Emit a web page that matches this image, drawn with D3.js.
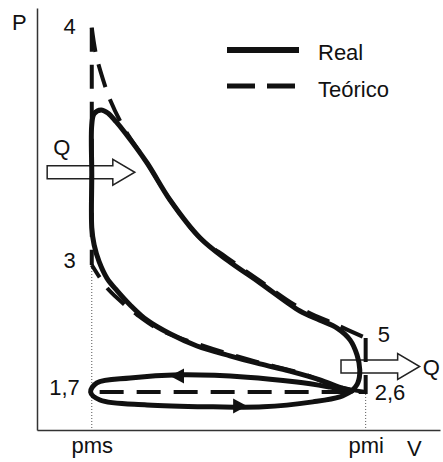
<!DOCTYPE html>
<html>
<head>
<meta charset="utf-8">
<script src="https://cdn.jsdelivr.net/npm/d3@7"></script>
<style>
body { margin: 0; background: #fff; }
svg { display: block; font-family: "Liberation Sans", Arial, sans-serif; }
</style>
</head>
<body>
<svg id="chart" width="443" height="462"></svg>
<script>
// x ticks (dead centres)
var xTickValues = [1, 8];
var xTickLabels = ['pms', 'pmi'];

// state points of the theoretical cycle
var pointLabels = ['1,7', '2,6', '3', '4', '5'];
var pointV = [1, 8, 1, 1, 8];
var pointP = [1, 1, 4.34, 10.58, 2.42];

// theoretical compression 2 -> 3
var compTheoV = [8.0, 7.32, 6.32, 5.04, 3.77, 2.75, 2.16, 1.65, 1.39, 1.21, 1.0];
var compTheoP = [1.0, 1.13, 1.50, 1.84, 2.24, 2.63, 3.03, 3.47, 3.74, 4.0, 4.34];

// theoretical expansion 4 -> 5
var expTheoV = [1.0, 1.11, 1.29, 1.47, 1.85, 2.41, 3.0, 3.77, 4.46, 5.30, 6.32, 7.27, 8.0];
var expTheoP = [10.58, 9.87, 9.21, 8.68, 7.89, 7.03, 6.05, 5.05, 4.53, 3.92, 3.21, 2.76, 2.42];

// real cycle: compression, combustion, expansion
var realV = [7.65, 7.32, 6.83, 6.06, 5.30, 4.53, 3.69, 3.0, 2.41, 1.98, 1.65, 1.39, 1.19, 1.06, 1.0, 1.0, 1.0,
    1.06, 1.24, 1.41, 1.62, 1.85, 2.41, 3.0, 3.77, 4.46, 5.30, 6.32, 6.83, 7.27, 7.60, 7.78, 7.85, 7.80, 7.65];
var realP = [1.03, 1.13, 1.32, 1.55, 1.74, 1.95, 2.21, 2.53, 2.89, 3.29, 3.66, 3.99, 4.42, 4.87, 5.32, 6.71, 8.03,
    8.32, 8.42, 8.34, 8.11, 7.82, 7.03, 6.05, 5.05, 4.47, 3.87, 3.13, 2.89, 2.68, 2.37, 1.97, 1.58, 1.24, 1.03];

// real pumping loop: exhaust (top) and intake (bottom)
var loopV = [7.65, 7.09, 6.24, 4.97, 3.25, 1.98, 1.13, 0.97, 1.21, 2.41, 4.10, 5.38, 6.65, 7.34, 7.65];
var loopP = [1.03, 1.13, 1.26, 1.39, 1.45, 1.37, 1.24, 1.0, 0.79, 0.66, 0.61, 0.61, 0.74, 0.87, 1.03];
var loopArrowV = [3.0, 4.97];
var loopArrowP = [1.42, 0.63];
var loopArrowDir = [-1, 1];

// heat in / heat out arrows
var heatLabels = ['Q', 'Q'];
var heatFromV = [-0.14, 7.37];
var heatToV = [2.10, 9.38];
var heatP = [6.78, 1.67];

var legendLabels = ['Real', 'Teórico'];

var svg = d3.select('#chart');
var x = d3.scaleLinear().domain([-0.4, 9.9]).range([37, 440]);
var y = d3.scaleLinear().domain([0, 11.1]).range([430, 8]);
var ink = '#111';
var fontSize = 22;

var zip = function (vs, ps) { return vs.map(function (v, i) { return [v, ps[i]]; }); };
var line = d3.line().x(function (d) { return x(d[0]); }).y(function (d) { return y(d[1]); });
var smooth = d3.line().x(function (d) { return x(d[0]); }).y(function (d) { return y(d[1]); })
    .curve(d3.curveCatmullRom.alpha(0.5));

// axes
var gx = svg.append('g').attr('transform', 'translate(0,' + y(0) + ')')
    .call(d3.axisBottom(x).tickValues(xTickValues).tickFormat(function (d, i) { return xTickLabels[i]; })
        .tickSize(0).tickPadding(7));
var gy = svg.append('g').attr('transform', 'translate(' + x(-0.4) + ',0)')
    .call(d3.axisLeft(y).tickValues([]).tickSize(0));
[gx, gy].forEach(function (g) {
    g.attr('font-family', null).attr('font-size', fontSize);
    g.select('.domain').attr('stroke', '#333').attr('stroke-width', 1.5);
    g.selectAll('text').attr('fill', ink);
});
svg.append('text').attr('x', 12).attr('y', 30).attr('font-size', fontSize).attr('fill', ink).text('P');
svg.append('text').attr('x', 407).attr('y', 456).attr('font-size', fontSize).attr('fill', ink).text('V');

// dotted dead centre guides
svg.append('line').attr('x1', x(1)).attr('x2', x(1)).attr('y1', y(pointP[2]) + 3).attr('y2', y(0))
    .attr('stroke', '#555').attr('stroke-width', 1).attr('stroke-dasharray', '1,2');
svg.append('line').attr('x1', x(8)).attr('x2', x(8)).attr('y1', y(pointP[1]) + 2).attr('y2', y(0))
    .attr('stroke', '#555').attr('stroke-width', 1).attr('stroke-dasharray', '1,2');

// hollow heat arrows
heatLabels.forEach(function (lab, i) {
    var x0 = x(heatFromV[i]), x1 = x(heatToV[i]), yc = y(heatP[i]);
    var h = 6.5, H = 13, L = 22;
    svg.append('path')
        .attr('d', 'M' + x0 + ',' + (yc - h) + 'L' + (x1 - L) + ',' + (yc - h) + 'L' + (x1 - L) + ',' + (yc - H) +
            'L' + x1 + ',' + yc + 'L' + (x1 - L) + ',' + (yc + H) + 'L' + (x1 - L) + ',' + (yc + h) +
            'L' + x0 + ',' + (yc + h) + 'Z')
        .attr('fill', '#fff').attr('stroke', '#222').attr('stroke-width', 1.5);
    var t = svg.append('text').attr('font-size', fontSize).attr('fill', ink).text(lab);
    if (i === 0) t.attr('x', x0 + 6).attr('y', yc - 17);
    else t.attr('x', x1 + 3).attr('y', yc + 8);
});

// theoretical cycle (dashed)
var dash = '24,13';
var theo = svg.append('g').attr('fill', 'none').attr('stroke', ink).attr('stroke-width', 4)
    .attr('stroke-dasharray', dash);
theo.append('path').attr('d', line([[pointV[3], pointP[3]], [pointV[2], pointP[2]]]));
theo.append('path').attr('d', line([[pointV[4], pointP[4]], [pointV[1], pointP[1]], [pointV[0], pointP[0]]]));
theo.append('path').attr('d', smooth(zip(compTheoV, compTheoP)));
theo.append('path').attr('d', smooth(zip(expTheoV, expTheoP)));

// real cycle (solid)
var real = svg.append('g').attr('fill', 'none').attr('stroke', ink).attr('stroke-width', 5)
    .attr('stroke-linejoin', 'round').attr('stroke-linecap', 'round');
real.append('path').attr('d', smooth(zip(realV, realP)));
real.append('path').attr('d', smooth(zip(loopV, loopP)));

loopArrowV.forEach(function (v, i) {
    svg.append('path').attr('d', 'M0,0L-14,-7.5L-14,7.5Z')
        .attr('transform', 'translate(' + x(v) + ',' + y(loopArrowP[i]) + ') rotate(' + (loopArrowDir[i] < 0 ? 180 : 0) + ')')
        .attr('fill', ink);
});

// state point labels
var offs = [[-12, 3, 'end'], [9, 8, 'start'], [-16, 3, 'end'], [-16, 6, 'end'], [12, 4, 'start']];
pointLabels.forEach(function (lab, i) {
    svg.append('text').attr('x', x(pointV[i]) + offs[i][0]).attr('y', y(pointP[i]) + offs[i][1])
        .attr('text-anchor', offs[i][2]).attr('font-size', fontSize).attr('fill', ink).text(lab);
});

// legend
var lg = svg.append('g');
legendLabels.forEach(function (lab, i) {
    var ly = 50 + i * 36;
    lg.append('line').attr('x1', 227).attr('x2', i ? 296 : 299).attr('y1', ly).attr('y2', ly)
        .attr('stroke', ink).attr('stroke-width', i ? 5 : 6).attr('stroke-dasharray', i ? '28,12' : null);
    lg.append('text').attr('x', 318).attr('y', ly + 4 + i * 1).attr('font-size', fontSize).attr('fill', ink)
        .attr('dominant-baseline', 'middle').text(lab);
});
</script>
</body>
</html>
